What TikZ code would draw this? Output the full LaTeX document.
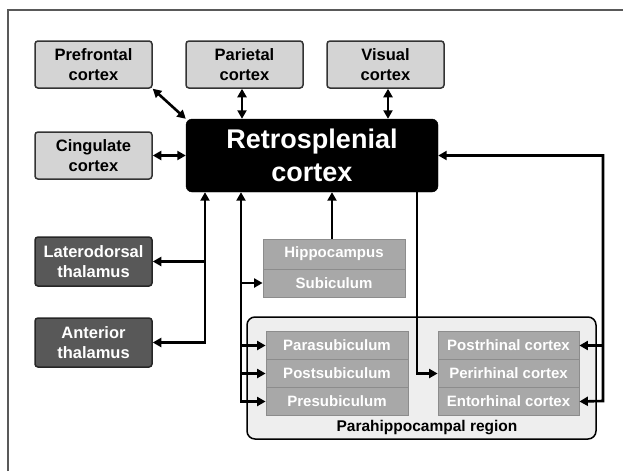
\documentclass[tikz,border=0pt]{standalone}
\usepackage{fontspec}
\setmainfont{Liberation Sans}
\usetikzlibrary{arrows.meta}
\definecolor{lightbox}{RGB}{212,212,212}
\definecolor{darkbox}{RGB}{88,88,88}
\definecolor{subfill}{RGB}{168,168,168}
\definecolor{subline}{RGB}{140,140,140}
\definecolor{regionfill}{RGB}{238,238,238}
\begin{document}
\begin{tikzpicture}[x=1pt,y=-1pt,
  >={Triangle[length=8.5pt,width=9pt]},
  graybox/.style={draw=black!80,line width=1.5pt,fill=lightbox,rounded corners=3pt,minimum width=117pt,minimum height=47pt,inner sep=0pt,align=center,font=\fontsize{16.5}{19.5}\selectfont\bfseries},
  thalbox/.style={graybox,fill=darkbox,draw=black!85,text=white,minimum height=49pt},
  rscbox/.style={draw=black,fill=black,rounded corners=6pt,minimum width=252pt,minimum height=73pt,inner sep=0pt,align=center,text=white,font=\fontsize{27}{33}\selectfont\bfseries},
  subbox/.style={draw=subline,line width=0.8pt,fill=subfill,minimum height=28pt,inner sep=0pt,text=white,font=\fontsize{15}{18}\selectfont\bfseries},
  link/.style={line width=2.6pt,draw=black}]
\useasboundingbox (0,0) rectangle (623,471);

%frame
\draw [line width=1.5pt,black!65] (8,471) -- (8,10) -- (623,10);

%Rounded Rect region
\node (phr) [draw=black,line width=1.5pt,fill=regionfill,rounded corners=8pt,minimum width=349pt,minimum height=122pt] at (421.5,378) {};
% Text Node
\node (phrlabel) [font=\fontsize{15.5}{18}\selectfont\bfseries] at (427,428) {Parahippocampal region};

%cortical boxes
\node (pfc) [graybox] at (93.5,64.5) {Prefrontal\\cortex};
\node (par) [graybox] at (244.5,64.5) {Parietal\\cortex};
\node (vis) [graybox] at (385.5,64.5) {Visual\\cortex};
\node (cing) [graybox] at (93.5,155.5) {Cingulate\\cortex};
\node (rsc) [rscbox] at (312,155.5) {Retrosplenial\\cortex};

%thalamus
\node (ld) [thalbox] at (93.5,261.5) {Laterodorsal\\thalamus};
\node (ant) [thalbox] at (93.5,342.5) {Anterior\\thalamus};

%hippocampal formation
\node (hip) [subbox,minimum width=142pt,minimum height=30pt] at (334,254) {Hippocampus};
\node (sub) [subbox,minimum width=142pt] at (334,283) {Subiculum};
\node (para) [subbox,minimum width=142pt] at (337,345.5) {Parasubiculum};
\node (post) [subbox,minimum width=142pt] at (337,373.5) {Postsubiculum};
\node (pres) [subbox,minimum width=142pt] at (337,401.5) {Presubiculum};
\node (por) [subbox,minimum width=141pt] at (508.5,345.5) {Postrhinal cortex};
\node (per) [subbox,minimum width=141pt] at (508.5,373.5) {Perirhinal cortex};
\node (ent) [subbox,minimum width=141pt] at (508.5,401.5) {Entorhinal cortex};

%junctions
\coordinate (tj) at (205,343);
\coordinate (hj) at (241,401);
\coordinate (pj) at (417,374);
\coordinate (rj) at (603,401);

%Arrows
\draw [link,<->] (pfc.south east) -- (rsc.north west);
\draw [link,<->] ([xshift=-2.5pt]par.south) -- ([xshift=-2.5pt]par.south |- rsc.north);
\draw [link,<->] ([xshift=2.5pt]vis.south) -- ([xshift=2.5pt]vis.south |- rsc.north);
\draw [link,<->] (cing.east) -- (cing.east -| rsc.west);
\draw [link,<->] (tj |- rsc.south) |- (ant.east);
\draw [link,->] (ld.east -| tj) -- (ld.east);
\draw [link,<->] (hj |- rsc.south) |- (pres.west);
\draw [link,->] (sub.west -| hj) -- (sub.west);
\draw [link,->] (para.west -| hj) -- (para.west);
\draw [link,->] (post.west -| hj) -- (post.west);
\draw [link,->] ([xshift=-2pt]hip.north) -- ([xshift=-2pt]hip.north |- rsc.south);
\draw [link,->] (pj |- rsc.south) |- (per.west);
\draw [link,<->] (rsc.east) -| (rj) -- (ent.east);
\draw [link,->] (por.east -| rj) -- (por.east);
\end{tikzpicture}
\end{document}
